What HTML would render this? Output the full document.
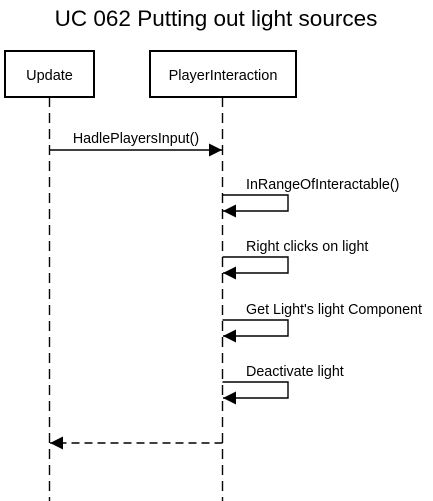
<!DOCTYPE html>
<html><head><style>body{margin:0;background:#fff}svg{display:block}text{font-family:"Liberation Sans",Arial,sans-serif;fill:#000}</style></head>
<body>
<svg width="433" height="501" viewBox="0 0 433 501">
<defs><marker id="a" markerWidth="13" markerHeight="13" refX="13" refY="6.5" orient="auto" markerUnits="userSpaceOnUse"><path d="M0,0 L13,6.5 L0,13 z" fill="#000"/></marker></defs>
<text x="216" y="26" font-size="22.5" text-anchor="middle">UC 062 Putting out light sources</text>
<line x1="49.5" y1="97" x2="49.5" y2="501" stroke="#000" stroke-width="1.4" stroke-dasharray="10 6"/>
<line x1="222.5" y1="97" x2="222.5" y2="501" stroke="#000" stroke-width="1.4" stroke-dasharray="10 6"/>
<rect x="5" y="51" width="89" height="46" fill="#fff" stroke="#000" stroke-width="2"/>
<text x="49.5" y="80" font-size="14.5" text-anchor="middle">Update</text>
<rect x="150" y="51" width="146" height="46" fill="#fff" stroke="#000" stroke-width="2"/>
<text x="223" y="80" font-size="14.5" text-anchor="middle">PlayerInteraction</text>
<line x1="49.5" y1="150" x2="222" y2="150" stroke="#000" stroke-width="1.4" marker-end="url(#a)"/>
<text x="136" y="143" font-size="14.3" text-anchor="middle">HadlePlayersInput()</text>
<g fill="none" stroke="#000" stroke-width="1.4">
<polyline points="222.5,195 288,195 288,211 223,211" marker-end="url(#a)"/>
<polyline points="222.5,257 288,257 288,273 223,273" marker-end="url(#a)"/>
<polyline points="222.5,320 288,320 288,336 223,336" marker-end="url(#a)"/>
<polyline points="222.5,382 288,382 288,398 223,398" marker-end="url(#a)"/>
<line x1="222.5" y1="443" x2="50" y2="443" stroke-dasharray="8 5" marker-end="url(#a)"/>
</g>
<text x="246" y="189" font-size="14.3">InRangeOfInteractable()</text>
<text x="246" y="251" font-size="14.3">Right clicks on light</text>
<text x="246" y="314" font-size="14.3">Get Light's light Component</text>
<text x="246" y="376" font-size="14.3">Deactivate light</text>
</svg>
</body></html>
